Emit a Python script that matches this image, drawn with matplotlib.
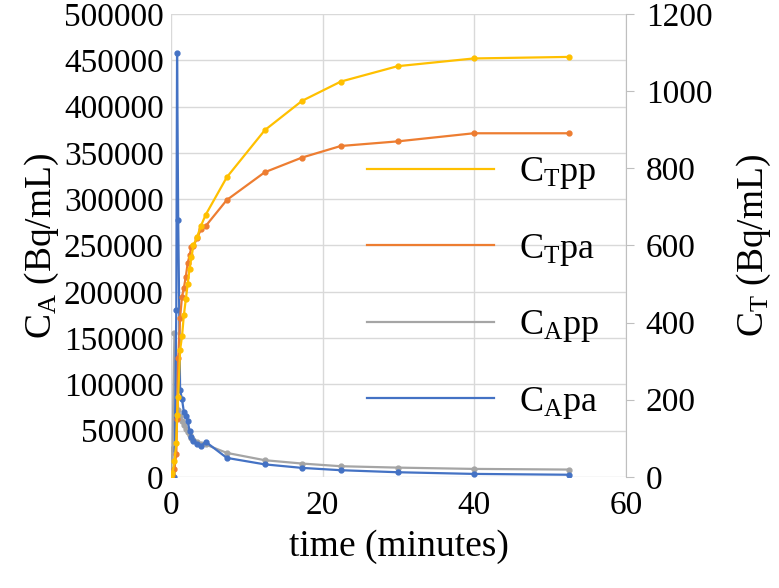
import matplotlib
matplotlib.use('Agg')
import matplotlib.pyplot as plt
from matplotlib.lines import Line2D

plt.rcParams['font.family'] = ['Liberation Serif', 'DejaVu Serif']
plt.rcParams['mathtext.fontset'] = 'custom'
plt.rcParams['mathtext.rm'] = 'Liberation Serif'
plt.rcParams['mathtext.it'] = 'Liberation Serif:italic'

# sampling times (minutes)
t = [0, 0.25, 0.5, 0.75, 0.85, 1.0, 1.25, 1.5, 1.75, 2.0, 2.25, 2.5, 2.75,
     3.0, 3.5, 4.0, 4.6, 7.4, 12.4, 17.3, 22.4, 29.9, 39.9, 52.4]

# arterial concentrations (left axis, Bq/mL)
ca_pa = [0, 0, 0, 180000, 458000, 278000, 94000, 84000, 70000, 66000, 60000,
         50000, 43000, 39000, 35000, 33000, 38000, 20500, 13500, 9700, 7200,
         5000, 3200, 2300]
ca_pp = [0, 30000, 155000, 126000, 100000, 72000, 66000, 60000, 56000, 52000,
         48000, 45000, 42000, 40000, 38000, 36000, 35000, 25900, 18000, 14400,
         11500, 10000, 8600, 7900]

# tissue concentrations (right axis, Bq/mL)
ct_pp = [0, 10, 40, 88, 160, 208, 329, 364, 420, 460, 500, 540, 570, 600,
         623, 651, 679, 777, 899, 975, 1025, 1065, 1085, 1089]
ct_pa = [0, 5, 20, 60, 150, 308, 412, 467, 490, 519, 554, 575, 597, 598,
         620, 642, 650, 718, 790, 828, 858, 870, 891, 891]

labels = [r'C$_\mathrm{T}$pp', r'C$_\mathrm{T}$pa', r'C$_\mathrm{A}$pp', r'C$_\mathrm{A}$pa']

c_yel = '#FFC000'
c_org = '#ED7D31'
c_gry = '#A5A5A5'
c_blu = '#4472C4'
grid_c = '#D9D9D9'

fig = plt.figure(figsize=(7.79, 5.88), dpi=100)
ax = fig.add_axes([0.219, 0.189, 0.585, 0.787])
ax2 = ax.twinx()

ax.plot(t, ca_pp, color=c_gry, lw=1.6, marker='o', ms=3.5)
ax.plot(t, ca_pa, color=c_blu, lw=1.6, marker='o', ms=3.5)
ax2.plot(t, ct_pa, color=c_org, lw=1.6, marker='o', ms=3.5)
ax2.plot(t, ct_pp, color=c_yel, lw=1.6, marker='o', ms=3.5)

ax.set_xlim(0, 60)
ax.set_ylim(0, 500000)
ax2.set_ylim(0, 1200)
ax.set_xticks([0, 20, 40, 60])
ax.set_yticks(range(0, 500001, 50000))
ax2.set_yticks(range(0, 1201, 200))

ax.grid(True, color=grid_c, lw=1)
ax.set_axisbelow(True)
for s in ['top', 'left', 'bottom', 'right']:
    ax.spines[s].set_visible(False)
for s in ['top', 'left', 'bottom']:
    ax2.spines[s].set_visible(False)
ax2.spines['right'].set_color('#BFBFBF')

fs = 24
ax.tick_params(axis='both', length=0, labelsize=fs, pad=5)
ax.tick_params(axis='x', pad=10)
ax2.tick_params(axis='y', length=6, color='#BFBFBF', labelsize=fs, pad=8)

ax.set_xlabel('time (minutes)', fontsize=27, labelpad=6)
ax.set_ylabel(r'C$_\mathrm{A}$ (Bq/mL)', fontsize=27, labelpad=2)
ax2.set_ylabel(r'C$_\mathrm{T}$ (Bq/mL)', fontsize=27, labelpad=16)

handles = [Line2D([], [], color=c, lw=1.6) for c in [c_yel, c_org, c_gry, c_blu]]
ax2.legend(handles=handles, labels=labels, loc='upper left',
           bbox_to_anchor=(0.36, 0.765), frameon=False, fontsize=26,
           handlelength=3.5, handletextpad=0.7, labelspacing=1.12)

fig.savefig('out.png', dpi=100)
